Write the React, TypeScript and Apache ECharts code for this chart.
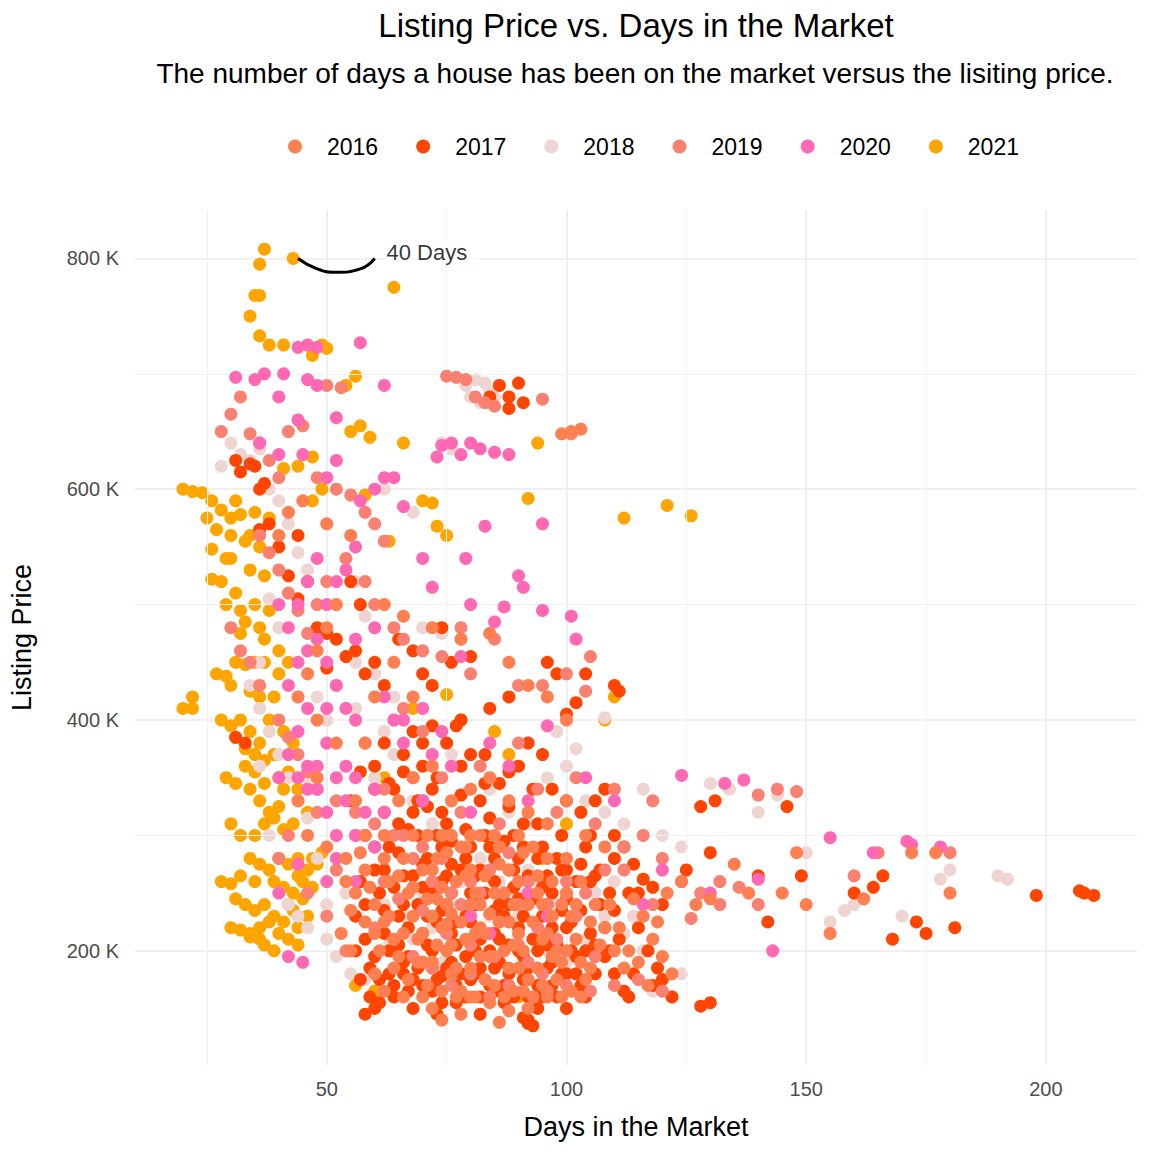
import React, { useEffect, useRef } from 'react';
import * as echarts from 'echarts';

type Pt = [number, number];

const years = ['2016', '2017', '2018', '2019', '2020', '2021'];
const yearColors = ['#FF7F50', '#FF4500', '#EED5D2', '#FA8072', '#FF69B4', '#FFA500'];
const drawOrder = [6, 3, 2, 4, 5, 1];

const xTicks = [50, 100, 150, 200];
const xMinor = [25, 75, 125, 175];
const yTicks = [200, 400, 600, 800];
const yMinor = [300, 500, 700];

const s2016: Pt[] = [[60,240],[62,225],[63,260],[64,210],[65,195],[66,280],[67,250],[68,230],[69,210],[70,190],[71,300],[72,270],[73,245],[74,220],[75,200],[76,180],[77,160],[78,290],[79,265],[80,240],[81,215],[82,195],[83,175],[84,155],[85,300],[86,275],[87,250],[88,225],[89,205],[90,185],[91,165],[92,150],[93,290],[94,265],[95,240],[96,215],[97,195],[98,175],[99,160],[100,250],[101,230],[102,210],[103,190],[104,175],[106,240],[108,220],[110,200],[112,185],[114,245],[116,230],[118,210],[120,195],[122,180],[70,160],[72,150],[74,140],[78,145],[80,160],[86,138],[88,148],[65,330],[68,350],[72,360],[76,330],[80,340],[84,350],[88,330],[92,320],[96,310],[100,330],[104,300],[108,290],[68,300],[74,300],[80,300],[90,300],[62,300],[58,270],[56,250],[58,225],[55,200],[60,180],[62,165],[66,160],[56,330],[58,380],[60,420],[64,450],[68,420],[62,500],[66,490],[52,500],[50,480],[48,460],[46,440],[44,420],[48,400],[52,380],[48,350],[44,330],[46,300],[50,290],[54,280],[82,220],[84,232],[76,232],[75,223],[130,245],[124,260],[127,240],[135,275],[138,250],[145,250],[150,240],[155,215],[148,285],[162,245],[172,285],[177,285],[180,250],[101,650],[99,648],[103,652],[72,480],[78,470],[84,475],[88,450],[92,430],[96,420],[100,400],[40,560],[42,580],[45,590],[50,570],[55,560],
[61,200],[62,280],[63,230],[64,185],[65,265],[66,215],[67,175],[68,255],[69,190],[70,270],[70,215],[71,245],[71,170],[72,230],[72,190],[73,280],[73,205],[74,255],[74,165],[75,285],[75,240],[76,300],[76,205],[77,260],[77,185],[78,225],[78,165],[79,290],[79,210],[80,270],[80,185],[81,250],[81,160],[82,300],[82,240],[83,215],[83,265],[84,195],[85,250],[85,170],[86,290],[86,225],[87,200],[87,160],[88,270],[88,185],[89,240],[89,165],[90,260],[90,215],[91,285],[91,200],[92,240],[92,175],[93,225],[93,160],[94,250],[94,185],[95,210],[95,170],[96,280],[96,160],[97,230],[97,260],[98,200],[99,240],[99,190],[100,280],[100,200],[101,165],[102,240],[103,260],[103,160],[105,225],[105,185],[107,205],[109,240],[111,220],[113,200],[115,190],[117,170],[119,225],[121,250],[58,300],[57,285],[59,255],[60,215],[55,235],[54,260],[53,215]];

const s2017: Pt[] = [[58,300],[60,290],[60,270],[61,250],[62,235],[62,215],[63,200],[63,180],[64,170],[64,160],[65,310],[65,285],[66,265],[66,240],[67,220],[67,195],[68,175],[68,150],[69,330],[69,300],[70,275],[70,255],[71,230],[71,205],[72,185],[72,165],[73,145],[73,350],[74,320],[74,290],[75,265],[75,240],[76,215],[76,190],[77,170],[77,155],[78,360],[78,335],[79,305],[79,280],[80,250],[80,225],[81,200],[81,180],[82,160],[82,145],[83,370],[83,345],[84,315],[84,290],[85,260],[85,235],[86,210],[86,190],[87,170],[87,155],[88,355],[88,325],[89,300],[89,270],[90,245],[90,220],[91,195],[91,175],[92,160],[92,140],[93,135],[93,340],[94,310],[94,280],[95,255],[95,230],[96,205],[96,185],[97,170],[98,160],[99,300],[99,270],[100,245],[100,220],[101,200],[102,180],[103,170],[104,160],[105,300],[106,265],[107,240],[108,220],[109,200],[110,180],[112,165],[113,160],[57,260],[56,230],[58,210],[59,185],[55,330],[57,355],[60,360],[62,380],[64,340],[66,370],[68,390],[70,360],[72,340],[75,380],[77,395],[80,370],[82,330],[86,345],[90,360],[92,380],[95,370],[97,340],[100,330],[103,320],[106,330],[108,340],[110,300],[112,290],[114,275],[116,262],[118,255],[60,195],[62,270],[65,230],[67,305],[70,190],[73,225],[76,275],[79,195],[82,270],[85,185],[88,240],[91,290],[94,200],[97,250],[100,180],[103,275],[106,205],[109,250],[92,137],[91,142],[58,145],[61,155],[66,180],[74,178],[105,260],[110,280],[115,250],[120,240],[125,270],[130,285],[128,325],[131,330],[140,265],[142,225],[146,325],[149,265],[160,250],[164,255],[166,265],[168,210],[173,225],[175,215],[181,220],[198,248],[207,252],[208,250],[210,248],[122,160],[130,155],[128,152],[114,180],[118,170],[86,690],[88,680],[90,692],[88,670],[91,675],[84,680],[35,620],[32,615],[31,625],[34,622],[37,605],[36,600],[38,570],[36,565],[40,550],[44,560],[42,525],[46,520],[44,505],[48,480],[50,475],[52,470],[55,520],[57,500],[54,455],[56,460],[58,440],[60,450],[62,430],[50,445],[65,470],[68,460],[70,440],[72,430],[74,480],[76,450],[80,455],[78,400],[84,410],[88,420],[96,450],[98,440],[100,405],[102,415],[104,440],[110,430],[111,425],[33,380],[31,385],
[62,320],[63,290],[64,255],[65,205],[66,190],[67,165],[68,265],[69,240],[69,185],[70,215],[70,170],[71,325],[71,280],[72,250],[72,200],[73,300],[73,175],[74,260],[74,235],[74,155],[75,310],[75,185],[76,295],[76,250],[77,225],[77,205],[78,180],[78,270],[79,230],[79,160],[80,290],[80,175],[81,265],[81,240],[82,210],[82,185],[83,300],[83,250],[84,200],[84,170],[85,280],[85,215],[86,240],[86,165],[87,295],[87,230],[88,205],[88,180],[89,255],[89,160],[90,280],[90,200],[91,310],[91,230],[92,265],[92,185],[93,245],[93,210],[94,170],[94,150],[95,290],[95,160],[96,265],[96,240],[97,220],[97,190],[98,280],[98,205],[99,235],[99,180],[100,270],[100,150],[101,225],[102,260],[102,195],[103,235],[104,290],[104,200],[105,215],[106,180],[107,270],[108,195],[110,235],[111,210],[113,250],[115,220],[117,200],[119,185],[120,175],[58,240],[59,160],[61,175],[60,340],[63,345],[66,355],[68,320],[70,380],[72,395],[56,200],[57,175],[60,150]];

const s2018: Pt[] = [[81,695],[83,692],[84,685],[79,690],[86,690],[82,675],[85,680],[80,680],[28,620],[30,640],[32,630],[34,625],[36,635],[38,600],[40,590],[42,570],[44,545],[46,530],[38,505],[40,480],[36,450],[34,430],[36,410],[38,390],[40,370],[42,350],[44,330],[46,315],[36,360],[38,300],[40,250],[42,240],[44,230],[46,220],[50,210],[52,195],[55,180],[58,175],[60,195],[63,205],[66,230],[70,250],[72,220],[76,240],[80,210],[84,230],[88,250],[92,270],[96,200],[100,190],[104,210],[108,230],[112,215],[116,200],[120,195],[124,180],[118,165],[122,160],[60,350],[64,370],[68,330],[72,310],[76,370],[80,300],[84,340],[88,320],[92,310],[96,350],[100,360],[104,330],[108,320],[112,310],[116,340],[120,300],[124,290],[130,345],[134,340],[140,320],[144,335],[52,430],[56,450],[60,440],[64,420],[70,480],[74,475],[78,470],[84,475],[92,380],[98,390],[102,375],[108,402],[62,600],[68,580],[74,640],[76,635],[150,285],[155,225],[158,235],[170,230],[180,270],[190,265],[192,262],[178,262],[160,240],[48,420],[50,400],[56,520],[58,490],
[62,240],[68,210],[74,190],[78,260],[82,280],[86,190],[90,230],[94,260],[98,240],[102,180],[106,250],[110,260],[114,230],[54,250],[50,240],[48,280],[46,350],[50,380],[56,410],[62,390],[66,300],[86,260]];

const s2019: Pt[] = [[28,650],[30,665],[32,680],[34,648],[36,640],[38,625],[40,610],[42,650],[45,655],[50,690],[53,688],[48,610],[52,600],[55,595],[58,580],[60,570],[62,555],[75,698],[77,697],[79,695],[81,680],[83,675],[85,672],[95,678],[101,648],[36,560],[38,545],[40,530],[42,510],[44,495],[46,475],[48,500],[50,520],[54,540],[58,520],[60,500],[64,480],[66,470],[70,460],[74,455],[78,480],[80,440],[85,470],[90,430],[95,430],[100,440],[104,425],[105,455],[30,480],[32,460],[34,450],[36,430],[40,400],[42,385],[44,370],[46,355],[48,340],[52,330],[56,320],[60,310],[64,300],[68,280],[72,260],[76,250],[80,260],[84,270],[88,285],[92,260],[96,240],[100,260],[104,250],[108,270],[112,290],[116,300],[120,280],[124,260],[128,250],[132,240],[136,255],[140,240],[60,220],[65,245],[70,235],[75,215],[80,205],[85,195],[90,205],[95,180],[100,170],[105,165],[110,170],[115,175],[120,165],[54,200],[50,230],[46,250],[42,300],[40,280],[70,330],[78,320],[86,310],[94,340],[102,350],[110,340],[118,330],[112,270],[118,240],[126,228],[132,260],[140,335],[144,340],[148,338],[160,265],[165,285],[180,285],
[62,260],[66,300],[70,290],[74,280],[78,240],[82,250],[86,225],[90,240],[94,220],[98,210],[102,230],[106,195],[64,210],[68,195],[72,185],[76,170],[80,180],[84,160],[88,170],[92,190],[96,165],[56,300],[52,270],[48,320],[62,340],[66,410],[70,390],[74,350],[82,360],[90,380],[98,320],[106,310]];

const s2020: Pt[] = [[31,697],[37,700],[41,700],[44,723],[46,725],[48,723],[57,727],[62,690],[48,690],[46,695],[44,660],[52,662],[40,680],[35,695],[36,640],[40,630],[45,630],[50,610],[52,625],[60,600],[62,610],[57,590],[76,640],[78,630],[80,640],[82,635],[85,632],[88,630],[73,628],[74,638],[83,568],[90,525],[91,515],[95,570],[95,495],[101,490],[102,470],[87,498],[85,485],[79,540],[80,500],[78,455],[72,515],[70,540],[66,585],[64,610],[56,550],[54,530],[52,520],[50,500],[48,540],[46,520],[44,500],[42,480],[40,500],[48,470],[50,450],[52,430],[54,410],[56,400],[46,410],[44,390],[42,370],[40,350],[46,360],[48,340],[50,320],[52,300],[54,360],[58,380],[60,340],[62,320],[64,400],[66,380],[68,350],[70,330],[72,370],[74,390],[76,360],[80,320],[84,380],[88,360],[92,330],[96,395],[104,350],[110,330],[124,352],[133,345],[137,348],[155,298],[164,285],[171,295],[172,292],[178,290],[140,262],[120,270],[44,275],[40,250],[50,260],[56,260],[42,195],[45,190],[88,270],[92,250],[96,230],[100,250],[80,230],[84,215],[130,250],[143,200],[116,240],
[44,350],[46,340],[48,360],[50,380],[52,350],[54,330],[56,350],[58,320],[44,450],[46,460],[42,430],[50,410],[56,470],[60,480],[62,420],[66,400],[70,410],[52,280],[56,300],[60,290]];

const s2021: Pt[] = [[20,600],[22,598],[24,597],[26,590],[25,575],[28,582],[27,565],[30,575],[32,578],[35,580],[38,575],[30,560],[33,555],[36,550],[26,548],[29,540],[34,530],[37,525],[26,522],[28,520],[31,510],[35,500],[38,495],[32,495],[33,485],[36,480],[37,470],[32,475],[20,410],[22,410],[22,420],[27,440],[29,438],[31,450],[33,448],[35,450],[37,450],[30,430],[34,425],[36,420],[40,440],[42,450],[28,400],[30,395],[32,400],[34,390],[36,380],[31,385],[33,375],[35,370],[37,365],[39,370],[33,360],[35,355],[37,345],[40,350],[42,355],[29,350],[31,345],[34,340],[36,330],[38,320],[40,325],[37,310],[39,315],[41,305],[43,310],[35,300],[34,280],[36,275],[38,270],[40,280],[42,275],[44,280],[46,270],[48,275],[39,260],[41,255],[43,250],[45,260],[32,265],[35,260],[28,260],[30,258],[31,245],[33,240],[35,235],[37,240],[39,230],[41,225],[43,235],[45,245],[30,220],[32,218],[34,215],[36,220],[38,225],[40,215],[42,210],[44,205],[37,205],[34,212],[56,170],[60,165],[90,160],[78,160],[37,808],[36,795],[43,800],[35,768],[36,768],[34,750],[36,733],[38,725],[41,725],[49,725],[50,722],[47,716],[56,698],[54,690],[55,650],[57,655],[59,645],[64,775],[66,640],[70,590],[72,588],[75,560],[73,568],[63,555],[58,595],[49,600],[47,590],[41,618],[44,620],[47,628],[92,592],[94,640],[112,575],[121,586],[126,577],[110,420],[108,400],[85,390],[88,370],[75,422],[78,400],[68,410],[62,350],[80,300],[100,310],[95,280],
[30,540],[34,560],[31,590],[29,500],[40,460],[39,420],[38,400],[41,390],[43,380],[44,340],[46,320],[41,340],[32,300],[30,310],[47,280],[49,285],[44,265],[47,255],[42,240],[44,220],[36,210],[39,200],[46,230]];

const seriesData = [s2016, s2017, s2018, s2019, s2020, s2021];

const arcPts: Pt[] = [[44, 800], [48, 791], [52, 788], [57, 791], [60, 800]];
const labelPt: Pt[] = [[61, 805]];

const App: React.FC = () => {
  const chartRef = useRef<HTMLDivElement>(null);

  useEffect(() => {
    document.body.style.margin = '0';
    if (!chartRef.current) return;
    const chart = echarts.init(chartRef.current, null, { renderer: 'svg' });
    const tickText = { color: '#4d4d4d', fontSize: 20, fontFamily: 'Liberation Sans' };
    const option: echarts.EChartsOption = {
      animation: false,
      backgroundColor: '#ffffff',
      textStyle: { fontFamily: 'Liberation Sans' },
      title: [
        { text: 'Listing Price vs. Days in the Market', left: 631, top: 4, textAlign: 'center',
          textStyle: { fontSize: 33, fontWeight: 'normal', color: '#000' } },
        { text: 'The number of days a house has been on the market versus the lisiting price.', left: 630, top: 54, textAlign: 'center',
          textStyle: { fontSize: 28, fontWeight: 'normal', color: '#000' } },
      ],
      legend: {
        top: 130, left: 283, icon: 'circle', itemWidth: 14, itemHeight: 14, itemGap: 38,
        textStyle: { fontSize: 23, color: '#000', padding: [0, 0, 0, 20] },
        data: years,
      },
      grid: { left: 125, right: 15, top: 210, bottom: 87 },
      xAxis: {
        type: 'value', min: 10, max: 219,
        name: 'Days in the Market', nameLocation: 'middle', nameGap: 48,
        nameTextStyle: { fontSize: 27, color: '#000' },
        axisLine: { show: false }, axisTick: { show: false, customValues: xTicks },
        axisLabel: { ...tickText, customValues: xTicks, margin: 14 },
        splitLine: { show: true, lineStyle: { color: '#ebebeb', width: 1.6 } },
      },
      yAxis: {
        type: 'value', min: 101, max: 842,
        name: 'Listing Price', nameLocation: 'middle', nameGap: 100,
        nameTextStyle: { fontSize: 27, color: '#000' },
        axisLine: { show: false }, axisTick: { show: false, customValues: yTicks },
        axisLabel: { ...tickText, customValues: yTicks, margin: 16, formatter: (v: number) => `${v} K` },
        splitLine: { show: true, lineStyle: { color: '#ebebeb', width: 1.6 } },
      },
      series: [
        {
          type: 'line', data: [], silent: true, z: 0,
          markLine: {
            silent: true, symbol: 'none', label: { show: false },
            lineStyle: { color: '#f0f0f0', width: 1, type: 'solid' },
            data: [...xMinor.map((v) => ({ xAxis: v })), ...yMinor.map((v) => ({ yAxis: v }))],
          },
        },
        ...years.map((y, i) => ({
          name: y, type: 'scatter' as const, data: seriesData[i], symbolSize: 13, z: 2 + drawOrder[i],
          itemStyle: { color: yearColors[i], opacity: 1 },
        })),
        {
          type: 'line', data: arcPts, smooth: true, showSymbol: false, z: 10, silent: true,
          lineStyle: { color: '#000', width: 3 },
        },
        {
          type: 'scatter', data: labelPt, symbolSize: 0, z: 11, silent: true,
          label: { show: true, position: 'right', formatter: '40 Days', fontSize: 22, color: '#000',
            backgroundColor: '#fff', padding: [2, 12, 2, 2] },
        },
      ],
    };
    chart.setOption(option);
    return () => chart.dispose();
  }, []);

  return <div ref={chartRef} style={{ width: 1152, height: 1152 }} />;
};

export default App;
